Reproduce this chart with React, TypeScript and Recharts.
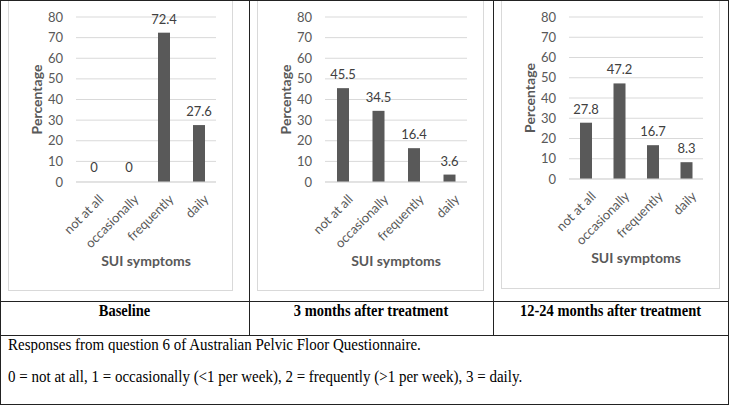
import { BarChart, Bar, XAxis, YAxis, CartesianGrid, LabelList } from "recharts";

const categories = ["not at all", "occasionally", "frequently", "daily"];
const baselineValues = [0, 0, 72.4, 27.6];
const threeMonthValues = [45.5, 34.5, 16.4, 3.6];
const longTermValues = [27.8, 47.2, 16.7, 8.3];
const yTicks = [0, 10, 20, 30, 40, 50, 60, 70, 80];
const panelTitles = ["Baseline", "3 months after treatment", "12-24 months after treatment"];
const captionLines = [
  "Responses from question 6 of Australian Pelvic Floor Questionnaire.",
  "0 = not at all, 1 = occasionally (<1 per week), 2 = frequently (>1 per week), 3 = daily.",
];

const GRAY = "#595959";
const LINE = "#222";

function CategoryTick(props: any) {
  const { x, y, payload } = props;
  const ax = x + 11;
  const ay = y + 10;
  return (
    <text
      x={ax}
      y={ay}
      textAnchor="end"
      fill={GRAY}
      fontSize={13}
      transform={`rotate(-45 ${ax} ${ay})`}
    >
      {payload.value}
    </text>
  );
}

// zero values draw no bar but keep their label
function BarShape(props: any) {
  const { x, y, width, height, payload } = props;
  if (!payload || payload.value <= 0) return <g />;
  return <rect x={x} y={y} width={width} height={height} fill={GRAY} />;
}

interface PanelProps {
  values: number[];
  left: number;
  width: number;
  height: number;
  axisHeight: number;
}

function Panel({ values, left, width, height, axisHeight }: PanelProps) {
  const data = categories.map((c, i) => ({ name: c, value: values[i] }));
  return (
    <div
      style={{
        position: "absolute",
        left,
        top: -1,
        width: width - 2,
        height: height + 1,
        border: "1px solid #d9d9d9",
      }}
    >
      <div style={{ position: "absolute", left: -1, top: 1 }}>
        <BarChart
          width={width}
          height={height}
          data={data}
          margin={{ top: 16, right: 17, left: 0, bottom: 0 }}
          barSize={12}
        >
          <CartesianGrid vertical={false} stroke="#d9d9d9" />
          <XAxis
            dataKey="name"
            height={axisHeight}
            interval={0}
            axisLine={{ stroke: "#d9d9d9" }}
            tickLine={false}
            tick={<CategoryTick />}
            label={{
              content: (p: any) => {
                const vb = p.viewBox;
                return (
                  <text
                    x={vb.x + vb.width / 2}
                    y={vb.y + 84}
                    textAnchor="middle"
                    fill={GRAY}
                    fontSize={14}
                    fontWeight="bold"
                  >
                    SUI symptoms
                  </text>
                );
              },
            }}
          />
          <YAxis
            width={68}
            domain={[0, 80]}
            ticks={yTicks}
            interval={0}
            axisLine={false}
            tickLine={false}
            tickMargin={7}
            tick={{ fill: GRAY, fontSize: 13 }}
            label={{
              content: (p: any) => {
                const vb = p.viewBox;
                const cx = vb.x + 29;
                const cy = vb.y + vb.height / 2;
                return (
                  <text
                    x={cx}
                    y={cy}
                    dy={5}
                    textAnchor="middle"
                    fill={GRAY}
                    fontSize={14}
                    fontWeight="bold"
                    transform={`rotate(-90 ${cx} ${cy})`}
                  >
                    Percentage
                  </text>
                );
              },
            }}
          />
          <Bar
            dataKey="value"
            fill={GRAY}
            minPointSize={1}
            shape={<BarShape />}
            isAnimationActive={false}
          >
            <LabelList dataKey="value" position="top" offset={9} fill="#404040" fontSize={13} />
          </Bar>
        </BarChart>
      </div>
    </div>
  );
}

const hLine = (top: number, left: number, width: number) => (
  <div style={{ position: "absolute", top, left, width, height: 1, background: LINE }} />
);
const vLine = (left: number, top: number, height: number) => (
  <div style={{ position: "absolute", top, left, width: 1, height, background: LINE }} />
);

export default function App() {
  const columns = [
    { left: 0, width: 249 },
    { left: 249, width: 244 },
    { left: 493, width: 235 },
  ];
  return (
    <div
      style={{
        position: "absolute",
        left: 0,
        top: 0,
        width: 729,
        height: 405,
        overflow: "hidden",
        background: "#fff",
        fontFamily: "Lato, sans-serif",
      }}
    >
      <Panel values={baselineValues} left={8} width={225} height={289} axisHeight={108} />
      <Panel values={threeMonthValues} left={257} width={227} height={289} axisHeight={108} />
      <Panel values={longTermValues} left={501} width={219} height={287} axisHeight={109} />

      {hLine(0, 0, 729)}
      {hLine(301, 0, 729)}
      {hLine(335, 0, 729)}
      {hLine(404, 0, 729)}
      {vLine(0, 0, 405)}
      {vLine(728, 0, 405)}
      {vLine(249, 0, 335)}
      {vLine(493, 0, 335)}

      {panelTitles.map((t, i) => (
        <div
          key={t}
          style={{
            position: "absolute",
            left: columns[i].left,
            width: columns[i].width,
            top: 301,
            lineHeight: "18px",
            textAlign: "center",
            fontFamily: "'Liberation Serif', serif",
            fontWeight: "bold",
            fontSize: 14.5,
            color: "#000",
            transform: "scaleY(1.15)",
          }}
        >
          {t}
        </div>
      ))}
      {captionLines.map((t, i) => (
        <div
          key={i}
          style={{
            position: "absolute",
            left: 8,
            top: 335 + i * 32,
            lineHeight: "18px",
            whiteSpace: "nowrap",
            fontFamily: "'Liberation Serif', serif",
            fontSize: 15,
            color: "#000",
            transform: "scaleY(1.1)",
          }}
        >
          {t}
        </div>
      ))}
    </div>
  );
}
